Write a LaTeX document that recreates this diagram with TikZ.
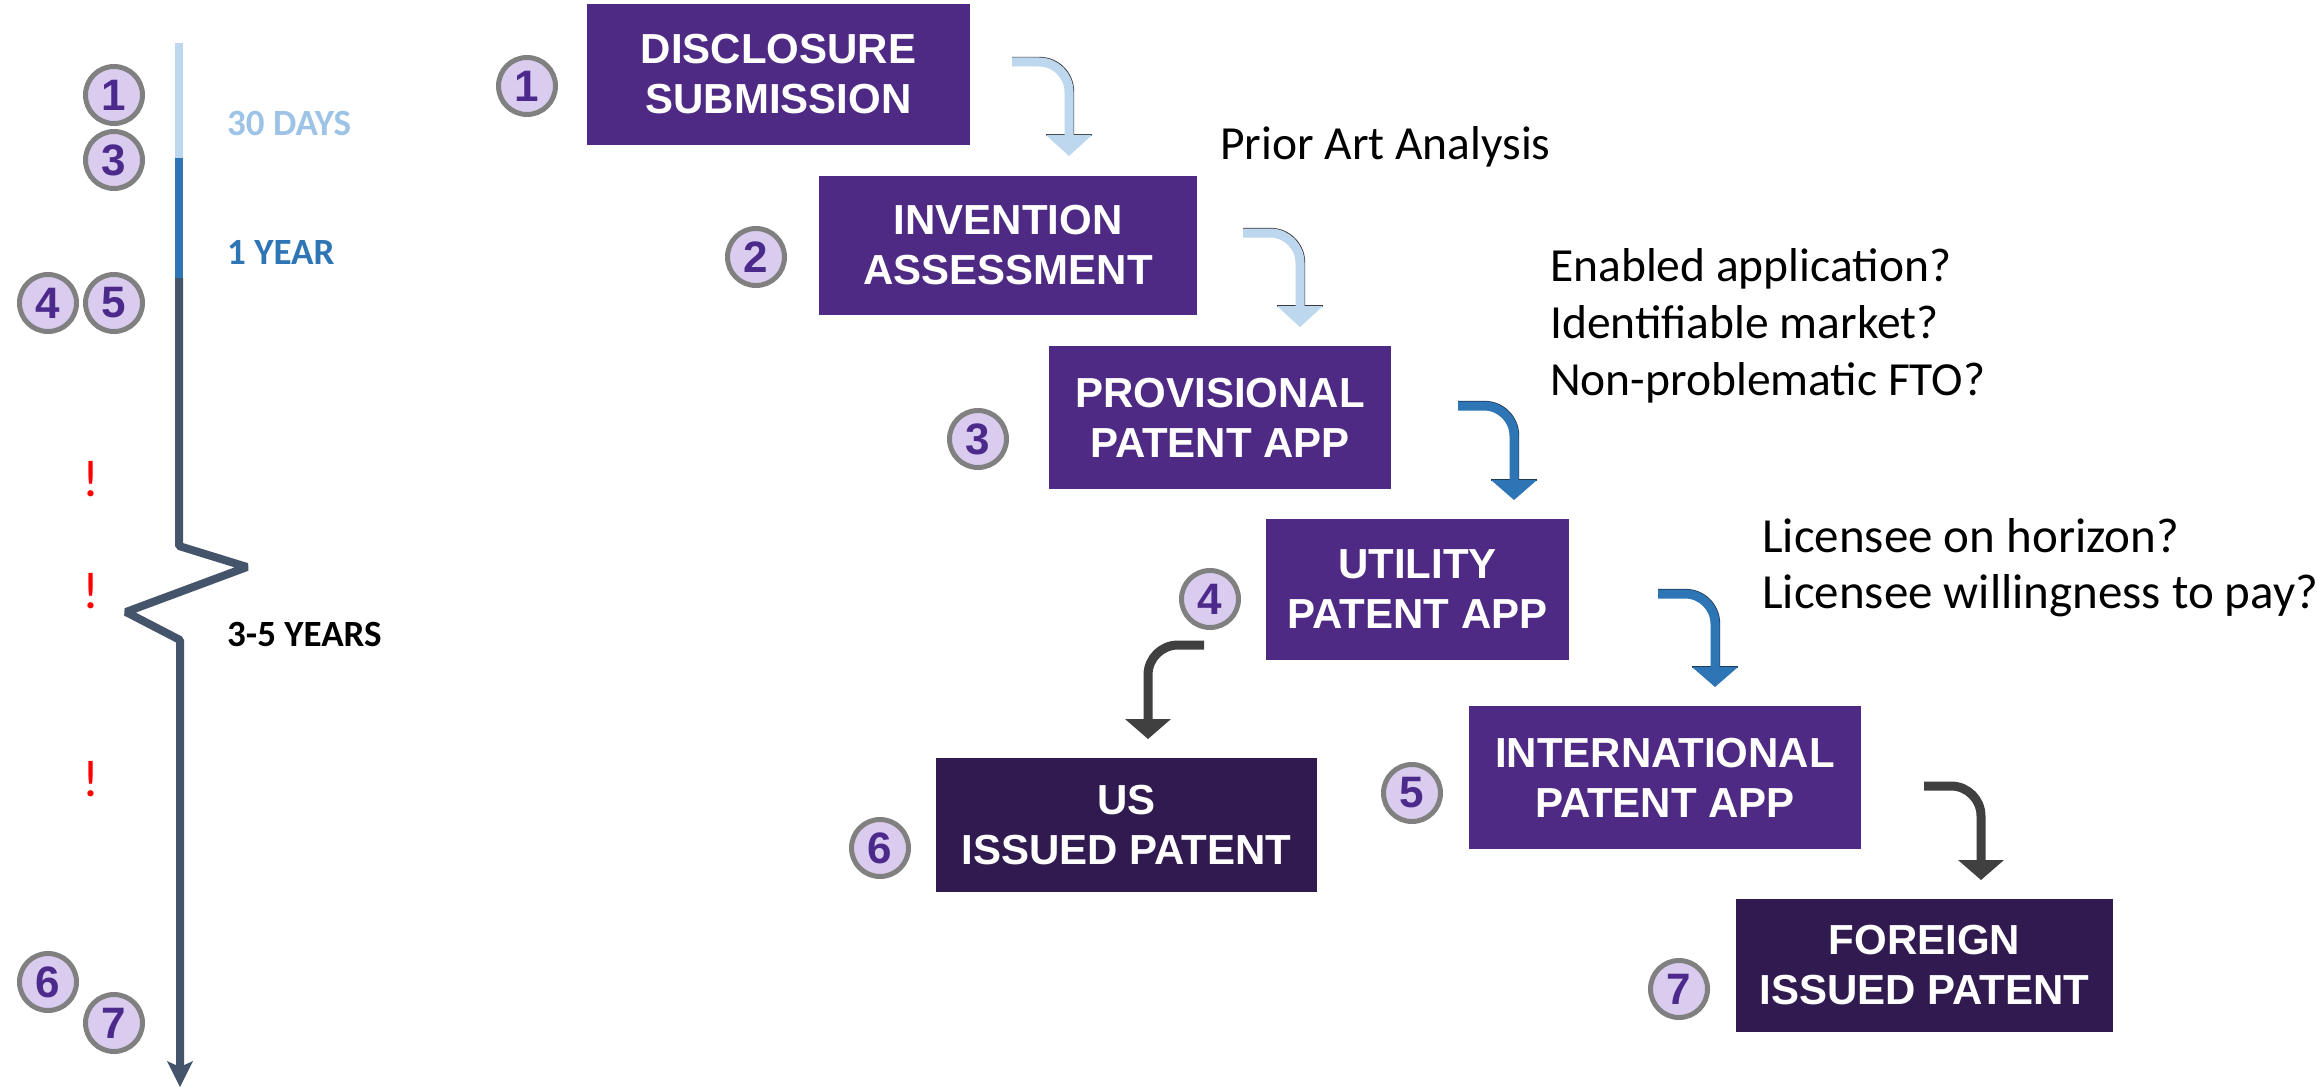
\documentclass[tikz,border=0pt]{standalone}
\usepackage{fontspec}
\setmainfont{Liberation Sans}
\newfontfamily\calib{Carlito}
\definecolor{boxpurple}{HTML}{4E2A84}
\definecolor{boxdark}{HTML}{311A4F}
\definecolor{badgefill}{HTML}{D9CCEE}
\definecolor{badgenum}{HTML}{4B2A8C}
\definecolor{badgering}{HTML}{808080}
\definecolor{lblue}{HTML}{BDD7EE}
\definecolor{lbluetext}{HTML}{9DC3E6}
\definecolor{mblue}{HTML}{2E75B6}
\definecolor{tldark}{HTML}{44546A}
\definecolor{dgrey}{HTML}{404040}
\definecolor{shadowgrey}{HTML}{3A3A3A}
\definecolor{shadowblue}{HTML}{1C3A5A}
% #1 name, #2 colour, #3 x0, #4 y0, #5 xv, #6 y head top, #7 y tip
\newcommand\bentarr[7]{%
  \coordinate (#1s) at (#3,#4);
  \coordinate (#1t) at (#5,#7);
  \draw[#2, line width=9pt, rounded corners=30pt] (#1s) -- (#5,#4) -- (#5,#6+1);
  \fill[#2] (#5-23,#6) -- (#5+23,#6) -- (#1t) -- cycle;
}
% outer shadow edge for a right-then-down arrow
\newcommand\bentshadow[5]{%
  \draw[#1, line width=1.3pt, rounded corners=34pt] (#2,#3-4.5) -- (#4+4.5,#3-4.5) -- (#4+4.5,#5);
  \draw[#1, line width=1.3pt] (#4-23,#5) -- (#4+23,#5);
}
\begin{document}
\begin{tikzpicture}[x=1pt,y=-1pt,
  stepbox/.style={fill=boxpurple, text=white, font=\bfseries\fontsize{42}{50}\selectfont,
    align=center, inner sep=0pt},
  issuedbox/.style={stepbox, fill=boxdark},
  badge/.style={circle, fill=badgefill, draw=badgering, line width=5pt, minimum size=57pt,
    inner sep=0pt, text=badgenum, font=\bfseries\fontsize{44}{44}\selectfont},
  tllabel/.style={anchor=west, inner sep=0pt, font=\calib\bfseries\fontsize{37}{37}\selectfont},
  note/.style={anchor=base west, inner sep=0pt, font=\calib\fontsize{47.5}{55}\selectfont},
  bignote/.style={note, font=\calib\fontsize{49}{56}\selectfont},
  warn/.style={inner sep=0pt, text=red, font=\calib\fontsize{52}{52}\selectfont}
]
\useasboundingbox (0,0) rectangle (2318,1089);
\fill[white] (0,0) rectangle (2318,1089);

% ---------- timeline ----------
\draw[lblue, line width=8pt] (179,43) -- (179,158);
\draw[mblue, line width=8pt] (179,158) -- (179,278);
\draw[tldark, line width=8pt, line join=bevel]
  (179,278) -- (179,546) -- (247,567) -- (126,612) -- (180,640) -- (180,1068);
\fill[tldark] (167,1061) -- (180,1087) -- (193,1061) -- (180,1067) -- cycle;

\node[tllabel, text=lbluetext] (t30) at (227,123) {30 DAYS};
\node[tllabel, text=mblue] (t1y) at (227,252) {1 YEAR};
\node[tllabel, text=black] (t35) at (227,634) {3-5 YEARS};

\node[warn] (w1) at (91,479) {!};
\node[warn] (w2) at (91,591) {!};
\node[warn] (w3) at (91,779) {!};

\node[badge] (l1) at (114,95) {1};
\node[badge] (l3) at (114,160) {3};
\node[badge] (l4) at (48,303) {4};
\node[badge] (l5) at (114,303) {5};
\node[badge] (l6) at (48,982) {6};
\node[badge] (l7) at (114,1023) {7};

% ---------- step boxes ----------
\node[stepbox, minimum width=383pt, minimum height=141pt] (b1) at (778.5,74.5) {DISCLOSURE\\SUBMISSION};
\node[stepbox, minimum width=378pt, minimum height=139pt] (b2) at (1008,245.5) {INVENTION\\ASSESSMENT};
\node[stepbox, minimum width=342pt, minimum height=143pt] (b3) at (1220,417.5) {PROVISIONAL\\PATENT APP};
\node[stepbox, minimum width=303pt, minimum height=141pt] (b4) at (1417.5,589.5) {UTILITY\\PATENT APP};
\node[stepbox, minimum width=392pt, minimum height=143pt] (b5) at (1665,777.5) {INTERNATIONAL\\PATENT APP};
\node[issuedbox, minimum width=381pt, minimum height=134pt] (b6) at (1126.5,825) {US\\ISSUED PATENT};
\node[issuedbox, minimum width=377pt, minimum height=133pt] (b7) at (1924.5,965.5) {FOREIGN\\ISSUED PATENT};

\node[badge] (r1) at (527,86) {1};
\node[badge] (r2) at (756,257) {2};
\node[badge] (r3) at (978,439) {3};
\node[badge] (r4) at (1210,599) {4};
\node[badge] (r5) at (1412,793) {5};
\node[badge] (r6) at (880,848) {6};
\node[badge] (r7) at (1679,989) {7};

% ---------- notes ----------
\node[note] (n1) at (1220,159) {Prior Art Analysis};
\node[note] (n2) at (1550,281) {Enabled application?};
\node[note] (n3) at (1550,338) {Identifiable market?};
\node[note] (n4) at (1550,395) {Non-problematic FTO?};
\node[bignote] (n5) at (1762,552) {Licensee on horizon?};
\node[bignote] (n6) at (1762,608) {Licensee willingness to pay?};

% ---------- bent arrows ----------
\bentshadow{shadowgrey}{1012}{62}{1069}{135}
\bentarr{a1}{lblue}{1012}{62}{1069}{135}{156}
\bentshadow{shadowgrey}{1243}{233}{1300}{306}
\bentarr{a2}{lblue}{1243}{233}{1300}{306}{327}
\bentshadow{shadowblue}{1458}{406}{1514}{480}
\bentarr{a3}{mblue}{1458}{406}{1514}{480}{500}
\bentshadow{shadowblue}{1658}{594}{1715}{667}
\bentarr{a4}{mblue}{1658}{594}{1715}{667}{687}
\bentarr{a5}{dgrey}{1204}{645}{1148}{719}{739}
\bentarr{a6}{dgrey}{1924}{786}{1981}{860}{880}
\end{tikzpicture}
\end{document}
